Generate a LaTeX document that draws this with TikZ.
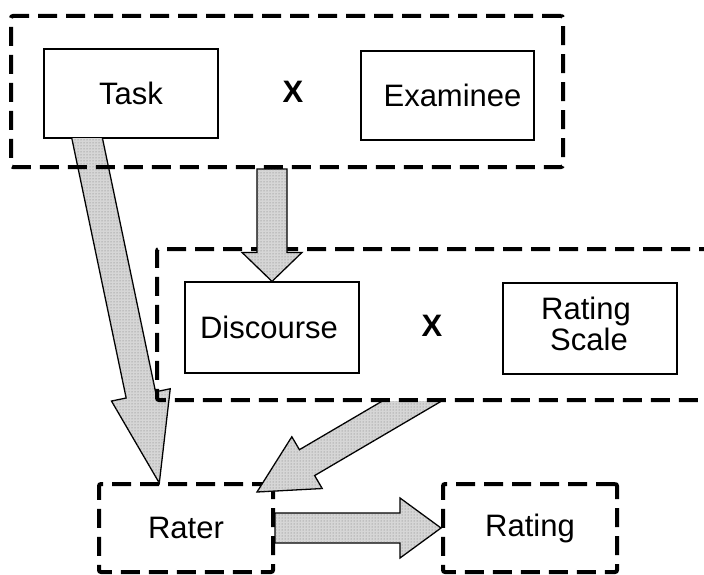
\documentclass[tikz,border=0pt]{standalone}
\usepackage{fontspec}
\setmainfont{Liberation Sans}
\usetikzlibrary{calc,patterns}
\tikzset{
  grp/.style={draw, line width=4pt, dash pattern=on 19pt off 9pt, rounded corners=2pt, inner sep=0pt},
  solidbox/.style={draw, line width=1.2pt, inner sep=0pt, align=center},
  grpbox/.style={grp, align=center},
  times/.style={font={\fontsize{31}{30}\selectfont\bfseries}, anchor=base, inner sep=0pt},
  arrowbody/.style={fill=black!16, draw=black, line width=1.3pt, line join=miter,
    postaction={pattern=dots, pattern color=black!55}},
}
% block arrow from #1 (start) to #2 (tip), head length #3
\newcommand\arrowshape{%
  \filldraw[arrowbody] ($(ba-b)!15pt!90:(ba-t)$) -- ($(ba-h)!15pt!-90:(ba-s)$)
    -- ($(ba-h)!30pt!-90:(ba-s)$) -- (ba-t) -- ($(ba-h)!30pt!90:(ba-s)$)
    -- ($(ba-h)!15pt!90:(ba-s)$) -- ($(ba-b)!15pt!-90:(ba-t)$) -- cycle;}
\newcommand\blockarrow[3]{%
  \coordinate (ba-s) at (#1);
  \coordinate (ba-t) at (#2);
  \coordinate (ba-h) at ($(ba-t)!#3!(ba-s)$);
  \coordinate (ba-b) at (ba-s);
  \arrowshape}
% same, but the shaft is cut off horizontally at the start point
\newcommand\blockarrowcut[3]{%
  \coordinate (ba-s) at (#1);
  \coordinate (ba-t) at (#2);
  \coordinate (ba-h) at ($(ba-t)!#3!(ba-s)$);
  \coordinate (ba-b) at ($(ba-s)!-40pt!(ba-t)$);
  \begin{scope}
  \path let \p1=(ba-s) in [clip] (-50pt,\y1) rectangle (800pt,-800pt);
  \arrowshape
  \end{scope}}
\begin{document}
\begin{tikzpicture}[x=1pt, y=-1pt, font=\fontsize{31}{30}\selectfont]
\useasboundingbox (0,0) rectangle (704,575);
% inner boxes
\node[solidbox, minimum width=174pt, minimum height=89pt] (task) at (131,93.5) {Task};
\node[solidbox, minimum width=173pt, minimum height=89pt] (examinee) at (447.5,95.5) {\hspace{10pt}Examinee};
\node[solidbox, minimum width=174pt, minimum height=91pt] (discourse) at (272,327.5) {\hspace{-6pt}Discourse};
\node[solidbox, minimum width=174pt, minimum height=91pt] (scale) at (590,328.5)
  {\raisebox{5pt}{\begin{tabular}{@{}c@{}}\hspace{-8pt}Rating\\\hspace{-2pt}Scale\end{tabular}}};
\node[times] (x1) at (293,103) {X};
\node[times] (x2) at (432,336) {X};
\node[grpbox, minimum width=174pt, minimum height=88pt] (rater) at (186,528) {Rater};
\node[grpbox, minimum width=174pt, minimum height=88pt] (rating) at (530,528) {Rating};
% arrows beneath the group boxes
\blockarrowcut{$(task.south west)!0.25!(task.south east)$}{$(rater.north west)!0.35!(rater.north east)+(0,1)$}{90pt}
\blockarrowcut{$(157,400)+(255,1)$}{257,492}{58pt}
% group boxes
\node[grp, minimum width=552pt, minimum height=151pt] (grp1) at (287,91.5) {};
\node[grp, minimum width=563pt, minimum height=151pt] (grp2) at (438.5,324.5) {};
% arrows on top
\blockarrow{$(grp1.south)!(discourse.north)!(grp1.south east)$}{discourse.north}{29pt}
\blockarrow{rater.east}{rating.west}{41pt}
\end{tikzpicture}
\end{document}
